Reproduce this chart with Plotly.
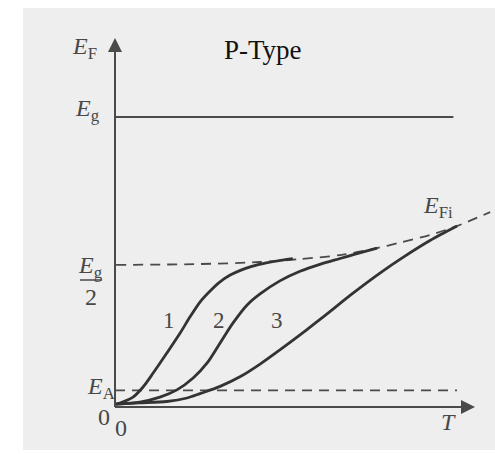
import plotly.graph_objects as go

# ---------------- data (T in arbitrary units, E in units of Eg) ----------------
Eg = 1.0
EA = 0.057
T_end_levels = 9.4
T_axis_max = 10.0
E_axis_max = 1.272

curve1_T = [0.03, 0.14, 0.5, 0.78, 1.06, 1.44, 1.81, 2.08, 2.36, 2.6, 2.9, 3.2, 3.5, 3.8, 4.2, 4.6, 4.94]
curve1_E = [0.010, 0.014, 0.034, 0.069, 0.117, 0.186, 0.255, 0.310, 0.362, 0.395, 0.430, 0.455, 0.472, 0.485, 0.497, 0.506, 0.512]

curve2_T = [0.03, 0.69, 1.25, 1.72, 2.17, 2.56, 2.92, 3.28, 3.67, 4.03, 4.58, 5.14, 5.69, 6.25, 6.67, 7.28]
curve2_E = [0.010, 0.017, 0.034, 0.059, 0.100, 0.152, 0.221, 0.290, 0.352, 0.390, 0.435, 0.468, 0.492, 0.512, 0.527, 0.548]

curve3_T = [0.03, 0.69, 1.44, 2.0, 2.36, 2.92, 3.47, 4.03, 4.58, 5.14, 5.56, 5.97, 6.53, 7.36, 8.0, 8.75, 9.5]
curve3_E = [0.010, 0.014, 0.019, 0.031, 0.046, 0.071, 0.104, 0.148, 0.197, 0.249, 0.289, 0.329, 0.385, 0.462, 0.516, 0.574, 0.624]

efi_T = [0.03, 2.36, 4.03, 5.14, 6.25, 7.28, 7.92, 8.75, 9.5, 10.42]
efi_E = [0.490, 0.493, 0.500, 0.510, 0.524, 0.548, 0.567, 0.593, 0.624, 0.672]

curve_labels = ["1", "2", "3"]
curve_label_T = [1.5, 2.9, 4.5]
curve_label_E = [0.30, 0.30, 0.30]

# ---------------- pixel <-> data mapping ----------------
W, H = 495, 454
X0PX, PXT = 115.0, 36.0      # T=0 at px 115, 36 px per unit
Y0PX, PXE = 407.0, 290.0     # E=0 at py 407, 290 px per Eg

def T_of(px):
    return (px - X0PX) / PXT

def E_of(py):
    return (Y0PX - py) / PXE

ink = "#333333"
axis_ink = "#4a4a4a"
txt = "#484848"
serif = "Liberation Serif, Times New Roman, serif"

fig = go.Figure()

# Eg level
fig.add_trace(go.Scatter(x=[0, T_end_levels], y=[Eg, Eg], mode="lines",
                         line=dict(color=axis_ink, width=2), hoverinfo="skip"))
# EA level (dashed)
fig.add_trace(go.Scatter(x=[0, 9.5], y=[EA, EA], mode="lines",
                         line=dict(color=axis_ink, width=1.8, dash="10px,7px"), hoverinfo="skip"))
# intrinsic level E_Fi (dashed)
fig.add_trace(go.Scatter(x=efi_T, y=efi_E, mode="lines", line_shape="spline", line_smoothing=0.8,
                         line=dict(color=axis_ink, width=1.8, dash="10px,7px"), hoverinfo="skip"))
# curves
for cx, cy in [(curve1_T, curve1_E), (curve2_T, curve2_E), (curve3_T, curve3_E)]:
    fig.add_trace(go.Scatter(x=cx, y=cy, mode="lines", line_shape="spline", line_smoothing=0.8,
                             line=dict(color=ink, width=2.8), hoverinfo="skip"))

ann = []
# axes with arrows
ann.append(dict(x=0, y=E_axis_max, ax=0, ay=0, xref="x", yref="y", axref="x", ayref="y",
                showarrow=True, arrowhead=2, arrowsize=1.4, arrowwidth=2, arrowcolor=axis_ink, text=""))
ann.append(dict(x=T_axis_max, y=0, ax=0, ay=0, xref="x", yref="y", axref="x", ayref="y",
                showarrow=True, arrowhead=2, arrowsize=1.4, arrowwidth=2, arrowcolor=axis_ink, text=""))

def label(text, px, py, size=24, color=txt):
    ann.append(dict(x=T_of(px), y=E_of(py), xref="x", yref="y", text=text, showarrow=False,
                    font=dict(family=serif, size=size, color=color), xanchor="center", yanchor="middle"))

label("<i>E</i><sub>F</sub>", 84, 48)
label("<i>E</i><sub>g</sub>", 87, 110)
label("<i>E</i><sub>g</sub>", 90, 267)
label("2", 91, 297)
label("<i>E</i><sub>A</sub>", 101, 388)
label("0", 104, 417)
label("0", 121, 428)
label("<i>T</i>", 448, 422)
label("<i>E</i><sub>Fi</sub>", 438, 207)
for t, lx, ly in zip(curve_labels, curve_label_T, curve_label_E):
    ann.append(dict(x=lx, y=ly, xref="x", yref="y", text=t, showarrow=False,
                    font=dict(family=serif, size=23, color=txt)))
# title
ann.append(dict(x=263 / W, y=1 - 50 / H, xref="paper", yref="paper", text="P-Type", showarrow=False,
                font=dict(family=serif, size=27, color="#111111"), xanchor="center", yanchor="middle"))

shapes = [
    # scanned page background
    dict(type="rect", xref="paper", yref="paper", x0=23 / W, x1=1, y0=1 - 450 / H, y1=1 - 8 / H,
         fillcolor="#eeeeee", line=dict(width=0), layer="below"),
    # fraction bar for Eg/2
    dict(type="line", xref="x", yref="y", x0=T_of(80), x1=T_of(102), y0=E_of(280), y1=E_of(280),
         line=dict(color=txt, width=1.5)),
    # y axis line
    dict(type="line", xref="x", yref="y", x0=0, x1=0, y0=0, y1=E_axis_max - 0.02,
         line=dict(color=axis_ink, width=2)),
    # x axis line
    dict(type="line", xref="x", yref="y", x0=0, x1=T_axis_max - 0.2, y0=0, y1=0,
         line=dict(color=axis_ink, width=2)),
]

fig.update_layout(
    width=W, height=H, margin=dict(l=0, r=0, t=0, b=0),
    paper_bgcolor="white", plot_bgcolor="rgba(0,0,0,0)",
    showlegend=False,
    xaxis=dict(range=[T_of(0), T_of(W)], visible=False, fixedrange=True),
    yaxis=dict(range=[E_of(H), E_of(0)], visible=False, fixedrange=True),
    annotations=ann, shapes=shapes,
)

fig.write_html("out.html", config={"displayModeBar": False},
               post_script="document.body.style.margin='0';")
